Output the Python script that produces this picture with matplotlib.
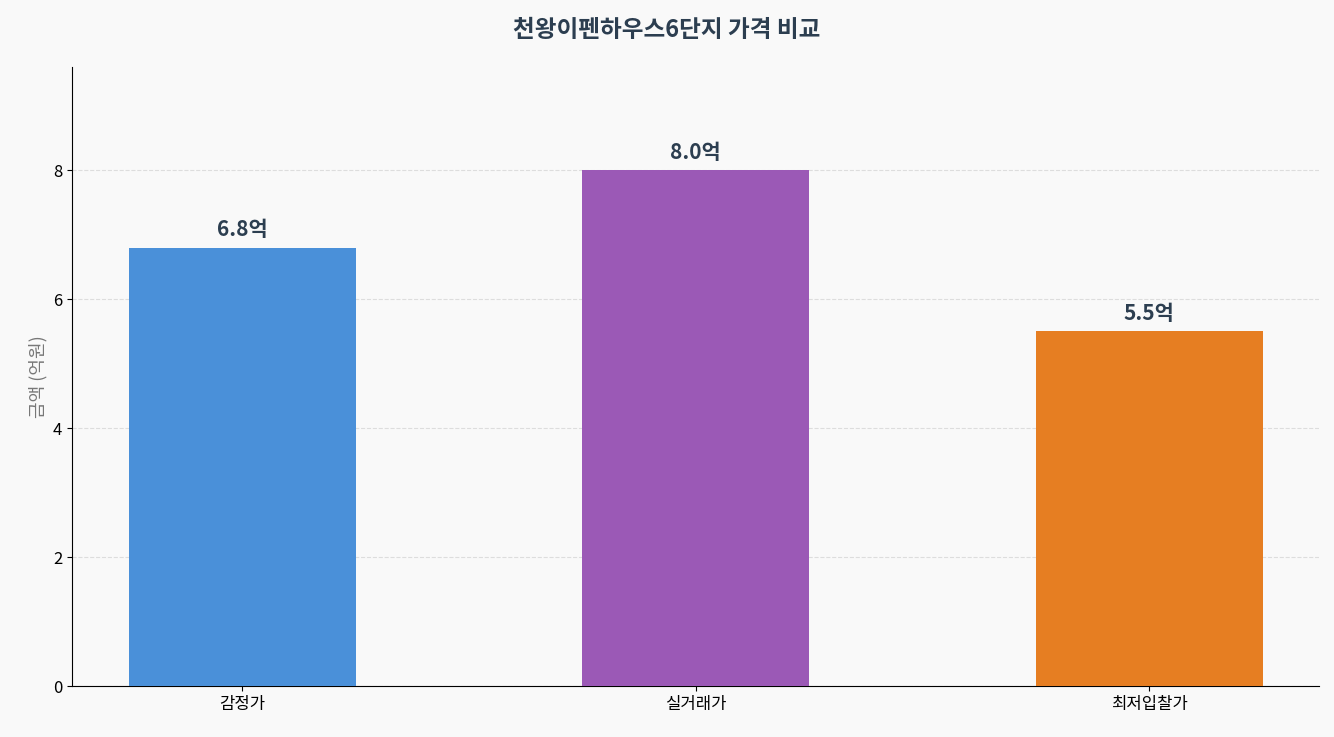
import matplotlib
matplotlib.use("Agg")
import matplotlib.pyplot as plt

plt.rcParams['font.family'] = ['Noto Sans CJK KR', 'DejaVu Sans']

categories = ['감정가', '실거래가', '최저입찰가']
values = [6.8, 8.0, 5.5]
colors = ['#4A90D9', '#9B59B6', '#E67E22']
title = '천왕이펜하우스6단지 가격 비교'

fig = plt.figure(figsize=(13.34, 7.37), dpi=100, facecolor='#F9F9F9')
ax = fig.add_axes([0.054, 0.069, 0.935, 0.84])
ax.set_facecolor('#F9F9F9')
bars = ax.bar(range(len(categories)), values, width=0.5, color=colors, zorder=3)
for i, v in enumerate(values):
    ax.text(i, v + 0.12, f'{v:.1f}억', ha='center', va='bottom', fontsize=15,
            fontweight='bold', color='#2C3E50')
ax.set_xticks(range(len(categories)))
ax.set_xticklabels(categories, fontsize=12)
ax.tick_params(axis='y', labelsize=12)
ax.set_ylim(0, 9.6)
ax.set_ylabel('금액 (억원)', fontsize=13, color='#777777')
ax.grid(axis='y', linestyle='--', color='#DDDDDD', zorder=0)
ax.spines['top'].set_visible(False)
ax.spines['right'].set_visible(False)
fig.suptitle(title, fontsize=17, fontweight='bold', color='#2C3E50', y=0.975)
fig.savefig('out.png', dpi=100, facecolor=fig.get_facecolor())
